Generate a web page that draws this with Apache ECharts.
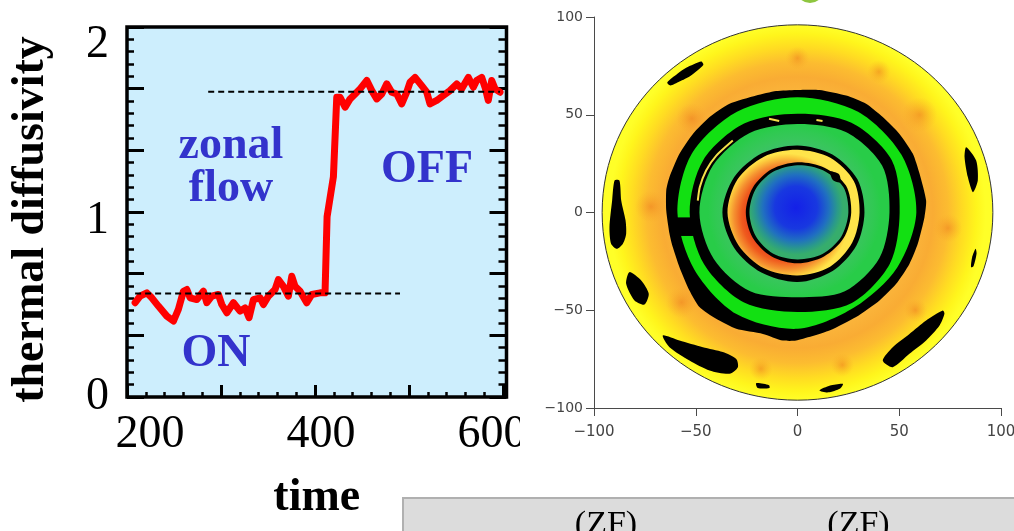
<!DOCTYPE html>
<html>
<head>
<meta charset="utf-8">
<script src="https://cdn.jsdelivr.net/npm/echarts@6/dist/echarts.min.js"></script>
<style>
  html, body { margin: 0; padding: 0; background: #ffffff; width: 1014px; height: 531px; overflow: hidden; }
  #left { position: absolute; left: 0; top: 0; width: 520px; height: 531px; }
  #right { position: absolute; left: 402px; top: 0; width: 612px; height: 531px; }
</style>
</head>
<body>
<div id="left"></div>
<div id="right"></div>
<script>
// ---------------- Left panel data ----------------
const timeValues = [
  182.5, 188.3, 196.2, 202.0, 209.7, 219.6, 227.3, 233.1, 239.0, 243.0,
  246.8, 254.7, 262.4, 266.4, 272.2, 279.9, 283.9, 289.8, 297.5, 305.3,
  311.2, 315.8, 320.9, 328.7, 332.6, 338.4, 346.2, 350.1, 356.0, 361.8,
  365.8, 369.6, 375.5, 383.3, 389.2, 398.9, 404.7, 407.1, 414.5, 418.4,
  422.3, 428.2, 434.0, 439.9, 445.7, 453.6, 459.4, 465.2, 471.1, 476.9,
  482.7, 488.6, 494.4, 500.3, 504.1, 510.0, 517.8, 523.7, 527.5, 535.4,
  543.1, 550.9, 558.8, 564.6, 572.3, 578.2, 582.1, 588.0, 591.9, 595.7,
  599.7, 603.6, 609.4
];
const diffusivityValues = [
  0.535, 0.572, 0.591, 0.563, 0.516, 0.459, 0.431, 0.497, 0.600, 0.610,
  0.563, 0.553, 0.600, 0.535, 0.572, 0.582, 0.525, 0.478, 0.535, 0.487,
  0.506, 0.450, 0.553, 0.563, 0.525, 0.572, 0.610, 0.666, 0.628, 0.572,
  0.685, 0.628, 0.600, 0.535, 0.582, 0.591, 0.591, 1.024, 1.250, 1.701,
  1.701, 1.645, 1.692, 1.720, 1.749, 1.796, 1.739, 1.692, 1.720, 1.777,
  1.730, 1.720, 1.664, 1.730, 1.786, 1.814, 1.767, 1.730, 1.664, 1.683,
  1.711, 1.739, 1.777, 1.749, 1.814, 1.758, 1.796, 1.814, 1.758, 1.683,
  1.796, 1.749, 1.730
];
const xLabelValues = [200, 400, 600];
const yLabelValues = [0, 1, 2];
const dashedLevels = [0.587, 1.733];
const dashedStarts = [182.5, 268.0];
const dashedEnds = [492.4, 609.4];
const annotationTexts = ['zonal', 'flow', 'OFF', 'ON'];
const xAxisTitle = 'time';
const yAxisTitle = 'thermal diffusivity';

// ---------------- Right panel data ----------------
const polarTickValues = [-100, -50, 0, 50, 100];
const diskRadius = 96;
const ringAngles = [0, 30, 60, 90, 120, 150, 180, 210, 240, 270, 300, 330];
const outerBlackOutline = [
  [-0.7, 62.7], [10.8, 62.7], [23.9, 59.8], [33.7, 55.6], [41.9, 48.8], [50.1, 40.2], [56.7, 30.0],
  [60.0, 19.8], [63.2, 6.1], [62.4, -2.4], [59.1, -16.0], [55.0, -26.3], [48.5, -36.5], [40.3, -45.0],
  [28.8, -53.5], [15.7, -60.4], [-0.7, -65.5], [-7.2, -65.5], [-17.0, -62.1], [-30.1, -59.5],
  [-40.0, -54.4], [-48.2, -48.4], [-53.1, -39.9], [-58.0, -28.0], [-61.3, -17.7], [-62.9, -10.9],
  [-64.5, 1.0], [-64.5, 11.3], [-62.9, 18.1], [-58.0, 30.0], [-51.4, 40.2], [-43.2, 48.8],
  [-33.4, 55.6], [-20.3, 59.8], [-10.5, 62.1]
];
const outerBlackIn  = [58.4, 59.0, 59.5, 59.0, 59.5, 60.0, 59.0, 58.5, 60.0, 59.5, 56.0, 56.5];
const midBlackOut   = [50.2, 53.5, 53.0, 50.5, 52.5, 53.5, 53.0, 53.0, 53.0, 50.9, 53.4, 52.4];
const midBlackIn    = [45.2, 48.0, 47.5, 45.3, 47.0, 48.0, 48.2, 47.5, 46.5, 43.3, 46.5, 46.5];
const innerBlackOut = [32.9, 34.0, 34.3, 34.3, 35.0, 36.0, 36.9, 36.0, 35.5, 35.6, 34.5, 33.5];
const innerBlackIn  = [30.5, 32.0, 32.3, 32.1, 33.0, 34.0, 34.4, 33.5, 33.0, 32.2, 32.0, 31.0];
const coreEdgeOut   = [26.4, 27.5, 26.5, 25.7, 25.5, 25.4, 25.4, 25.5, 25.8, 26.0, 26.0, 26.2];
const coreEdgeIn    = [25.0, 26.0, 25.0, 24.2, 24.0, 23.8, 23.6, 23.8, 24.2, 24.0, 24.5, 24.8];
const bridgeLeft = [[-59.5, -2.5], [-49, -2.5], [-49, -12], [-59.5, -12]];
const coreBump = [[16, 21], [20.5, 19.5], [21, 15.5], [17.5, 16.5]];
const blobTopLeft = [[-64, 66.5], [-59, 71], [-54.7, 74], [-47.3, 77.2], [-46.3, 75.5], [-52.5, 70], [-58, 67], [-62.5, 65]];
const blobLeft = [[-89.9, 16.4], [-87.5, 16.4], [-86.6, 6], [-84.5, -4], [-84.2, -11], [-85.8, -16], [-88.8, -18.6], [-91.6, -16], [-92.4, -7.5], [-91.1, 6]];
const blobLeftLow = [[-82.6, -30.5], [-76.8, -34.8], [-73.1, -41.6], [-75.2, -47.1], [-80.1, -45], [-84.2, -36.5]];
const blobBottomLeft = [[-66.2, -62.9], [-58, -65.5], [-46.5, -68.9], [-36.7, -71.4], [-30.1, -74.9], [-29.3, -79.1], [-33.4, -82.5], [-43.2, -80.8], [-53.1, -75.7], [-62.9, -68.9]];
const blobBottomA = [[-20.3, -87.3], [-14, -88.3], [-13.8, -89.8], [-19.5, -89.8]];
const blobBottomB = [[10.8, -91], [16, -88.5], [22.3, -87.6], [21, -90], [15, -92]];
const blobBottomRight = [[41.9, -75.7], [46.8, -68.9], [55, -62.1], [63.2, -55.2], [71.4, -50.1], [72.2, -51.8], [69.8, -57.8], [63.2, -65.5], [55, -72.3], [46.8, -79.1]];
const blobRight = [[82.9, 33.4], [87.8, 26.6], [88.6, 16.4], [86.2, 10.4], [83.7, 18.1], [82.1, 28.3]];
const blobRightSmall = [[87.5, -18.6], [88, -21], [86.5, -27.5], [85.3, -28], [85.8, -23]];
const sliverUpperLeft = [[-31.8, 36.8], [-40, 29], [-44.9, 21.5], [-48, 13], [-49, 6.1]];
const sliverTopA = [[-14, 48], [-9, 46.8]];
const sliverTopB = [[9.3, 47.3], [12.3, 46.8]];
const orangeSpots = [
  [-57, -46, 9, 8], [-72, 3, 8, 10], [-18, -80, 9, 6], [22, -78, 12, 6],
  [-52, 48, 10, 8], [0, 79, 18, 6], [60, 50, 9, 9], [74, -8, 7, 14],
  [58, -50, 8, 6], [40, 72, 10, 6]
];
const boxLabels = ['(ZF)', '(ZF)'];

// ---------------- Left chart ----------------
const serif = '"Liberation Serif", "Times New Roman", serif';
const lineData = timeValues.map((t, i) => [t, diffusivityValues[i]]);
const dashedSeries = dashedLevels.map((lv, i) => ({
  type: 'line', xAxisIndex: 0, yAxisIndex: 0, z: 4, silent: true,
  showSymbol: false, symbol: 'none',
  data: [[dashedStarts[i], lv], [dashedEnds[i], lv]],
  lineStyle: { color: '#000', width: 2, type: [6, 4] }
}));

const leftChart = echarts.init(document.getElementById('left'), null, { renderer: 'canvas', devicePixelRatio: 1 });
const yCommon = {
  type: 'value', min: 0, max: 2.1, interval: 0.35,
  axisLine: { show: false }, splitLine: { show: false }
};
leftChart.setOption({
  animation: false,
  grid: { left: 127, top: 27, width: 379.5, height: 370, show: true, containLabel: false, outerBoundsMode: 'none',
          backgroundColor: '#cdeefd', borderColor: '#000', borderWidth: 3.5 },
  xAxis: [{
    type: 'value', min: 173, max: 617, interval: 110,
    axisLine: { show: false }, splitLine: { show: false },
    axisTick: { show: true, inside: true, length: 12, lineStyle: { color: '#000', width: 3 } },
    minorTick: { show: true, splitNumber: 5, length: 5, lineStyle: { color: '#000', width: 2.5 } },
    axisLabel: { customValues: xLabelValues, margin: 15, fontFamily: serif, fontSize: 46, color: '#000',
                 formatter: v => String(v) },
    name: xAxisTitle, nameLocation: 'middle', nameGap: 78,
    nameTextStyle: { fontFamily: serif, fontSize: 46, fontWeight: 'bold', color: '#000' }
  }],
  yAxis: [
    Object.assign({}, yCommon, {
      position: 'left',
      axisTick: { show: true, inside: true, length: 17, lineStyle: { color: '#000', width: 3 } },
      minorTick: { show: true, splitNumber: 5, length: 7, lineStyle: { color: '#000', width: 2.5 } },
      axisLabel: { customValues: yLabelValues, margin: 18, fontFamily: serif, fontSize: 46, color: '#000',
                   formatter: v => String(v) }
    }),
    Object.assign({}, yCommon, {
      position: 'right',
      axisTick: { show: true, inside: true, length: 17, lineStyle: { color: '#000', width: 3 } },
      minorTick: { show: true, splitNumber: 5, length: 8, lineStyle: { color: '#000', width: 2.5 } },
      axisLabel: { show: false }
    })
  ],
  graphic: [
    { type: 'text', x: 31, y: 219.5, rotation: Math.PI / 2, silent: true,
      style: { text: yAxisTitle, fontFamily: serif, fontSize: 46, fontWeight: 'bold', fill: '#000',
               align: 'center', verticalAlign: 'middle' } },
    { type: 'text', x: 231, y: 146, silent: true,
      style: { text: annotationTexts[0], fontFamily: serif, fontSize: 46, fontWeight: 'bold', fill: '#3333cc', align: 'center', verticalAlign: 'middle' } },
    { type: 'text', x: 231, y: 189, silent: true,
      style: { text: annotationTexts[1], fontFamily: serif, fontSize: 46, fontWeight: 'bold', fill: '#3333cc', align: 'center', verticalAlign: 'middle' } },
    { type: 'text', x: 427, y: 170, silent: true,
      style: { text: annotationTexts[2], fontFamily: serif, fontSize: 46, fontWeight: 'bold', fill: '#3333cc', align: 'center', verticalAlign: 'middle' } },
    { type: 'text', x: 216, y: 354, silent: true,
      style: { text: annotationTexts[3], fontFamily: serif, fontSize: 46, fontWeight: 'bold', fill: '#3333cc', align: 'center', verticalAlign: 'middle' } }
  ],
  series: [
    { type: 'line', xAxisIndex: 0, yAxisIndex: 0, z: 3, silent: true,
      showSymbol: false, symbol: 'none', data: lineData,
      lineStyle: { color: '#ff0000', width: 7, join: 'round', cap: 'round' } }
  ].concat(dashedSeries)
});

// ---------------- Right chart ----------------
function polarToXY(radii) {
  return radii.map((r, i) => {
    const a = ringAngles[i] * Math.PI / 180;
    return [r * Math.cos(a), r * Math.sin(a)];
  });
}
function radial(stops, cx, cy) {
  return { type: 'radial', x: cx === undefined ? 0.5 : cx, y: cy === undefined ? 0.5 : cy, r: 0.5,
           colorStops: stops.map(s => ({ offset: s[0], color: s[1] })) };
}
const diskFill = radial([[0, '#ffc040'], [0.62, '#fbb63c'], [0.72, '#f9ac34'], [0.8, '#fcbc30'],
                         [0.88, '#ffdc22'], [0.95, '#fff51c'], [1, '#ffff28']]);
const spotFill = radial([[0, 'rgba(236,118,30,0.5)'], [1, 'rgba(245,160,40,0)']]);
const orangeBandFill = radial([[0, '#e8401a'], [0.6, '#e8401a'], [0.72, '#ef5a1e'], [0.84, '#f59030'],
                               [0.94, '#fcc83c'], [1, '#ffe44a']], 0.45, 0.53);
const coreFill = radial([[0, '#1420e8'], [0.45, '#1838e0'], [0.7, '#2070c0'], [0.88, '#2a9a8a'], [1, '#36ad6c']], 0.47, 0.45);
const innerGreenFill = radial([[0, '#3cc06a'], [0.72, '#3cc06a'], [0.82, '#38c65c'], [0.92, '#30c952'], [1, '#28cc48']]);
const blobs = [blobTopLeft, blobLeft, blobLeftLow, blobBottomLeft, blobBottomA, blobBottomB,
               blobBottomRight, blobRight, blobRightSmall];
const slivers = [sliverUpperLeft, sliverTopA, sliverTopB];

const rightChart = echarts.init(document.getElementById('right'), null, { renderer: 'canvas', devicePixelRatio: 1 });
const axisGray = '#4a4a4a';
const polarAxis = {
  type: 'value', min: -100, max: 100, interval: 50,
  axisLine: { show: true, onZero: false, lineStyle: { color: axisGray, width: 1 } },
  axisTick: { show: true, length: 8, lineStyle: { color: axisGray, width: 1 } },
  splitLine: { show: false }
};
rightChart.setOption({
  animation: false,
  grid: { left: 192, top: 17, width: 407, height: 391, containLabel: false, outerBoundsMode: 'none' },
  xAxis: Object.assign({}, polarAxis, {
    position: 'bottom',
    axisLabel: { customValues: polarTickValues, margin: 17, fontFamily: '"DejaVu Sans", sans-serif', fontSize: 15, color: '#444',
                 formatter: v => String(v).replace('-', '\u2212') }
  }),
  yAxis: Object.assign({}, polarAxis, {
    position: 'left',
    axisLabel: { customValues: polarTickValues, margin: 11, fontFamily: '"DejaVu Sans", sans-serif', fontSize: 14, color: '#444',
                 formatter: v => String(v).replace('-', '\u2212') }
  }),
  graphic: [
    { type: 'circle', silent: true, shape: { cx: 408, cy: -11, r: 14 }, style: { fill: '#8ec63f' } },
    { type: 'rect', silent: true, shape: { x: 1, y: 498, width: 640, height: 50 },
      style: { fill: '#dcdcdc', stroke: '#b0b0b0', lineWidth: 2 } },
    { type: 'text', silent: true, x: 204, y: 508,
      style: { text: boxLabels[0], fontFamily: serif, fontSize: 34, fill: '#000', align: 'center', verticalAlign: 'top' } },
    { type: 'text', silent: true, x: 456.5, y: 508,
      style: { text: boxLabels[1], fontFamily: serif, fontSize: 34, fill: '#000', align: 'center', verticalAlign: 'top' } }
  ],
  series: [{
    type: 'custom', coordinateSystem: 'cartesian2d', silent: true, clip: false,
    data: [[0, 0]],
    renderItem: function (params, api) {
      const px = pts => pts.map(p => api.coord(p));
      const unit = api.size([1, 1]);
      const ux = Math.abs(unit[0]), uy = Math.abs(unit[1]);
      const c = api.coord([api.value(0), api.value(1)]);
      const ring = (radii, fill) => ({ type: 'polygon', shape: { points: px(polarToXY(radii)), smooth: 0.3 }, style: { fill: fill } });
      const shape = (pts, fill, sm) => ({ type: 'polygon', shape: { points: px(pts), smooth: sm === undefined ? 0.25 : sm }, style: { fill: fill } });
      const children = [];
      children.push({ type: 'ellipse', shape: { cx: c[0], cy: c[1], rx: diskRadius * ux, ry: diskRadius * uy },
                      style: { fill: diskFill, stroke: '#333', lineWidth: 1 } });
      orangeSpots.forEach(s => {
        const p = api.coord([s[0], s[1]]);
        children.push({ type: 'ellipse', shape: { cx: p[0], cy: p[1], rx: s[2] * ux, ry: s[3] * uy }, style: { fill: spotFill } });
      });
      blobs.forEach(b => children.push(shape(b, '#000')));
      children.push(shape(outerBlackOutline, '#000', 0.2));
      children.push(ring(outerBlackIn, '#12e012'));
      children.push(ring(midBlackOut, '#000'));
      children.push(ring(midBlackIn, innerGreenFill));
      children.push(ring(innerBlackOut, '#000'));
      children.push(ring(innerBlackIn, orangeBandFill));
      children.push(ring(coreEdgeOut, '#000'));
      children.push(ring(coreEdgeIn, coreFill));
      children.push(shape(bridgeLeft, '#000', 0));
      children.push(shape(coreBump, '#000'));
      slivers.forEach(s => children.push({ type: 'polyline', shape: { points: px(s), smooth: 0.2 },
                                           style: { stroke: '#f4e04a', lineWidth: 2, fill: null } }));
      return { type: 'group', children: children };
    }
  }]
});
</script>
</body>
</html>
